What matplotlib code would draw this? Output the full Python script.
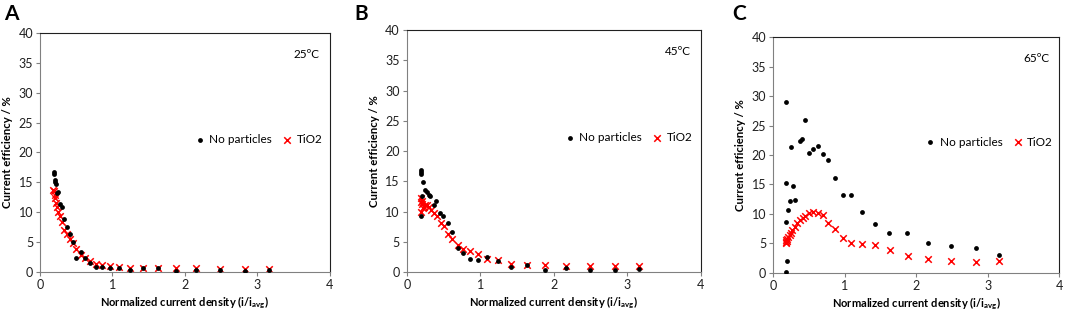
"""Current efficiency vs normalized current density at three bath temperatures."""

import matplotlib

matplotlib.use("Agg")
import matplotlib.pyplot as plt

plt.rcParams["font.family"] = ["Lato", "DejaVu Sans"]

# panel A, 25 C
a_plain_x = [3.16, 2.83, 2.49, 2.16, 1.88, 1.63, 1.42, 1.24, 1.09, 0.97, 0.86, 0.77, 0.69, 0.62,
             0.56, 0.50, 0.45, 0.41, 0.37, 0.33, 0.30, 0.27, 0.25, 0.23, 0.22, 0.21, 0.20, 0.19, 0.19]
a_plain_y = [0.3, 0.2, 0.3, 0.3, 0.2, 0.6, 0.6, 0.4, 0.7, 0.7, 0.9, 0.9, 1.5, 2.3,
             3.3, 2.4, 5.0, 6.3, 7.5, 8.8, 10.8, 11.4, 13.4, 13.3, 14.8, 15.1, 15.4, 16.4, 16.8]
a_tio2_x = [3.16, 2.83, 2.49, 2.16, 1.88, 1.63, 1.42, 1.24, 1.09, 0.97, 0.86, 0.77, 0.69, 0.62,
            0.56, 0.50, 0.45, 0.41, 0.37, 0.33, 0.30, 0.27, 0.25, 0.23, 0.22, 0.21, 0.20, 0.19, 0.18]
a_tio2_y = [0.5, 0.5, 0.5, 0.6, 0.6, 0.6, 0.7, 0.7, 0.9, 1.0, 1.1, 1.3, 1.8, 2.3,
            2.9, 3.8, 4.9, 5.6, 6.3, 7.1, 8.3, 9.3, 10.1, 10.8, 11.6, 12.3, 12.9, 13.6, 13.8]

# panel B, 45 C
b_plain_x = [3.16, 2.83, 2.49, 2.16, 1.88, 1.63, 1.42, 1.24, 1.09, 0.97, 0.86, 0.77, 0.69, 0.62,
             0.56, 0.49, 0.45, 0.40, 0.37, 0.32, 0.30, 0.27, 0.25, 0.22, 0.20, 0.19, 0.19, 0.19, 0.19]
b_plain_y = [0.5, 0.3, 0.4, 0.7, 0.4, 1.1, 0.9, 1.8, 2.4, 1.9, 2.1, 3.2, 4.0, 6.6,
             8.1, 9.3, 9.8, 11.7, 11.0, 12.6, 12.7, 13.3, 13.6, 14.9, 12.6, 9.3, 16.2, 16.5, 16.8]
b_tio2_x = [3.16, 2.83, 2.49, 2.16, 1.88, 1.63, 1.42, 1.24, 1.09, 0.97, 0.86, 0.77, 0.69, 0.62,
            0.56, 0.50, 0.47, 0.41, 0.37, 0.33, 0.30, 0.27, 0.25, 0.23, 0.22, 0.21, 0.20, 0.19, 0.19, 0.19]
b_tio2_y = [1.0, 1.0, 1.0, 1.0, 1.1, 1.2, 1.4, 1.9, 2.1, 2.9, 3.4, 3.8, 4.5, 5.4,
            6.3, 7.6, 8.1, 9.2, 9.8, 10.3, 10.7, 11.0, 11.1, 10.8, 10.5, 11.3, 11.8, 12.3, 9.9, 11.5]

# panel C, 65 C
c_plain_x = [3.16, 2.83, 2.49, 2.16, 1.87, 1.62, 1.42, 1.24, 1.09, 0.97, 0.87, 0.76, 0.69, 0.62,
             0.55, 0.50, 0.45, 0.40, 0.37, 0.31, 0.28, 0.25, 0.23, 0.21, 0.20, 0.18, 0.18, 0.18, 0.18]
c_plain_y = [3.1, 4.2, 4.5, 5.1, 6.7, 6.8, 8.3, 10.3, 13.2, 13.3, 16.1, 19.1, 20.1, 21.5,
             21.1, 20.4, 26.0, 22.7, 22.4, 12.4, 14.7, 21.3, 12.2, 10.6, 2.1, 29.0, 15.2, 8.6, 0.1]
c_tio2_x = [3.16, 2.83, 2.49, 2.16, 1.88, 1.63, 1.42, 1.24, 1.09, 0.97, 0.86, 0.77, 0.69, 0.62,
            0.56, 0.50, 0.45, 0.41, 0.37, 0.33, 0.30, 0.27, 0.25, 0.23, 0.21, 0.20, 0.19, 0.18, 0.18, 0.18]
c_tio2_y = [2.0, 1.8, 2.1, 2.3, 2.9, 3.9, 4.7, 4.9, 5.0, 6.0, 7.5, 8.4, 9.8, 10.2,
            10.4, 10.1, 9.7, 9.3, 8.9, 8.4, 7.8, 7.2, 6.8, 6.5, 6.1, 5.4, 5.8, 5.0, 5.3, 5.6]

panels = [
    ("A", 0.004, "25ºC", a_plain_x, a_plain_y, a_tio2_x, a_tio2_y, [0.0376, 0.142, 0.272, 0.754]),
    ("B", 0.333, "45ºC", b_plain_x, b_plain_y, b_tio2_x, b_tio2_y, [0.382, 0.142, 0.276, 0.763]),
    ("C", 0.688, "65ºC", c_plain_x, c_plain_y, c_tio2_x, c_tio2_y, [0.726, 0.139, 0.2685, 0.744]),
]

fig = plt.figure(figsize=(10.65, 3.17), dpi=100)

for letter, letter_x, temp, px, py, tx, ty, rect in panels:
    ax = fig.add_axes(rect)
    ax.scatter(px, py, s=12, color="black", marker="o", linewidths=0, label="No particles", zorder=3)
    ax.scatter(tx, ty, s=22, color="#ff0000", marker="x", linewidths=1.1, label="TiO2", zorder=2)
    ax.set_xlim(0, 4)
    ax.set_ylim(0, 40)
    ax.set_xticks([0, 1, 2, 3, 4])
    ax.set_yticks(range(0, 41, 5))
    ax.tick_params(labelsize=9, length=3, width=0.8, color="#808080", labelcolor="#202020", pad=2)
    for side in ("left", "bottom"):
        ax.spines[side].set_color("#808080")
    for side in ("top", "right"):
        ax.spines[side].set_color("#202020")
    ax.set_xlabel("Normalized current density (i/i$_{\\mathregular{avg}}$)", fontsize=8,
                  fontweight="bold", labelpad=3)
    ax.set_ylabel("Current efficiency / %", fontsize=8.2, fontweight="bold", labelpad=4)
    ax.text(0.965, 0.91, temp, transform=ax.transAxes, ha="right", va="center", fontsize=8.5)
    ax.legend(loc="center", bbox_to_anchor=(0.755, 0.555), ncol=2, frameon=False, fontsize=8.5,
              handlelength=0.8, handletextpad=0.4, columnspacing=0.9, borderaxespad=0)
    fig.text(letter_x, 0.956, letter, ha="left", va="center", fontsize=15, fontweight="bold")

fig.savefig("out.png", dpi=100)
